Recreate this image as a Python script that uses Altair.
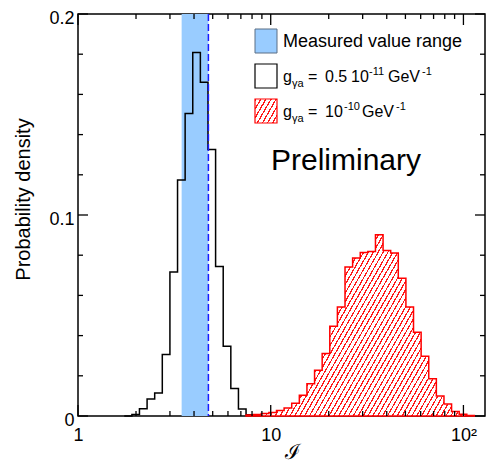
import altair as alt
import pandas as pd

W, H = 407, 402
FONT = "Liberation Sans"

# ---- data ----
# histogram bin edges (I), uniform in log10; density value of bin starting at each edge
black_edges = [1.738, 1.904, 2.084, 2.283, 2.500, 2.738, 2.999, 3.285, 3.597, 3.940,
               4.315, 4.726, 5.176, 5.669, 6.209, 6.801, 7.447, 8.157]
black_density = [0.0, 0.0008, 0.0036, 0.0085, 0.0114, 0.0306, 0.0716, 0.1174, 0.1505, 0.1808,
                 0.1661, 0.1326, 0.0744, 0.0347, 0.0137, 0.0035, 0.0006, 0.0]

red_edges = [7.447, 8.157, 8.933, 9.784, 10.715, 11.736, 12.853, 14.078, 15.417, 16.887,
             18.493, 20.256, 22.182, 24.298, 26.607, 29.144, 31.915, 34.958, 38.282, 41.933,
             45.920, 50.294, 55.081, 60.326, 66.069, 72.361, 79.250, 86.796, 95.060, 104.11, 114.02]
red_density = [0.0005, 0.0008, 0.0012, 0.0018, 0.0027, 0.0040, 0.0063, 0.0103, 0.0161, 0.0228,
               0.0311, 0.0446, 0.0542, 0.0741, 0.0786, 0.0814, 0.0819, 0.0902, 0.0824, 0.0811,
               0.0685, 0.0542, 0.0417, 0.0297, 0.0185, 0.0099, 0.0060, 0.0022, 0.0009, 0.0003, 0.0]

measured_range = [3.45, 4.75]
measured_value = [4.75]

x_domain = [1, 129.4]
y_domain = [0, 0.2]
x_major_ticks = [1, 10, 100]
x_minor_ticks = [2, 3, 4, 5, 6, 7, 8, 9, 20, 30, 40, 50, 60, 70, 80, 90]
y_major_ticks = [0, 0.1, 0.2]
y_minor_ticks = [0.02, 0.04, 0.06, 0.08, 0.12, 0.14, 0.16, 0.18]

legend_labels = ["Measured value range"]
y_title = "Probability density"
x_title = "ℐ"
watermark = "Preliminary"

# ---- styling helpers ----
x_scale = alt.Scale(type="log", domain=x_domain, nice=False)
y_scale = alt.Scale(domain=y_domain, nice=False, zero=False)


def hatch(n, frac, x2, y2, color="#ff1a1a"):
    stops = []
    for i in range(n):
        a = round(i / n, 5)
        b = round((i + frac) / n, 5)
        c = round((i + 1) / n, 5)
        stops += [{"offset": a, "color": color}, {"offset": b, "color": color},
                  {"offset": b, "color": "#ffffff"}, {"offset": c, "color": "#ffffff"}]
    return {"gradient": "linear", "x1": 0, "y1": 0, "x2": x2, "y2": y2, "stops": stops}


one = pd.DataFrame({"a": [0]})


def txt(s, x, y, size, **kw):
    return alt.Chart(one).mark_text(text=s, align=kw.pop("align", "left"),
                                    baseline=kw.pop("baseline", "alphabetic"),
                                    font=FONT, fontSize=size, color="black", **kw).encode(
        x=alt.value(x), y=alt.value(y))


# ---- layers ----
band = alt.Chart(pd.DataFrame({"lo": [measured_range[0]], "hi": [measured_range[1]]})).mark_rect(
    color="#99ccff").encode(
    x=alt.X("lo:Q", scale=x_scale, axis=alt.Axis(
        values=x_major_ticks,
        labelExpr="datum.value >= 100 ? '10²' : (datum.value >= 10 ? '10' : '1')",
        ticks=False, domain=False, grid=False, labelFont=FONT, labelFontSize=18,
        labelColor="black", labelPadding=10, labelFlush=False, labelOverlap=False,
        title=x_title, titleFont=FONT, titleFontSize=21, titleFontWeight="normal",
        titleX=214, titleAlign="center",
        titleY=42, titleBaseline="alphabetic", titleColor="black")),
    x2="hi:Q",
    y=alt.value(0), y2=alt.value(H))

black = alt.Chart(pd.DataFrame({"I": black_edges, "density": black_density})).mark_line(
    interpolate="step-after", color="black", strokeWidth=1.5).encode(
    x=alt.X("I:Q", scale=x_scale),
    y=alt.Y("density:Q", scale=y_scale, axis=alt.Axis(
        values=y_major_ticks,
        labelExpr="datum.value == 0 ? '0' : format(datum.value, '.1f')",
        ticks=False, domain=False, grid=False, labelFont=FONT, labelFontSize=18,
        labelColor="black", labelPadding=4, labelOverlap=False, labelOffset=4,
        title=y_title, titleFont=FONT, titleFontSize=20, titleFontWeight="normal",
        titleColor="black", titleAngle=270, titleX=-55, titleY=185,
        titleAlign="center", titleBaseline="middle")))

red = alt.Chart(pd.DataFrame({"I": red_edges, "density": red_density})).mark_area(
    interpolate="step-after", fill=hatch(68, 0.28, 1.206, 0.545), stroke="#ff0000",
    strokeWidth=1.5).encode(
    x=alt.X("I:Q", scale=x_scale),
    y=alt.Y("density:Q", scale=y_scale))

dashed = alt.Chart(pd.DataFrame({"v": measured_value})).mark_rule(
    color="#1a1aff", strokeDash=[7, 3], strokeWidth=1.5).encode(
    x=alt.X("v:Q", scale=x_scale))


def xticks(vals, length, top):
    return alt.Chart(pd.DataFrame({"v": vals})).mark_rule(color="black", strokeWidth=1.3).encode(
        x=alt.X("v:Q", scale=x_scale),
        y=alt.value(0 if top else H), y2=alt.value(length if top else H - length))


def yticks(vals, length, right):
    return alt.Chart(pd.DataFrame({"v": vals})).mark_rule(color="black", strokeWidth=1.3).encode(
        y=alt.Y("v:Q", scale=y_scale),
        x=alt.value(W - length if right else 0), x2=alt.value(W if right else length))


ticks = [xticks(x_major_ticks, 11, False), xticks(x_minor_ticks, 5, False),
         xticks(x_major_ticks, 11, True), xticks(x_minor_ticks, 5, True),
         yticks(y_major_ticks, 10, False), yticks(y_minor_ticks, 5, False),
         yticks(y_major_ticks, 10, True), yticks(y_minor_ticks, 5, True)]

# legend swatches
sw_blue = alt.Chart(one).mark_rect(fill="#99ccff", stroke="#5a6f85", strokeWidth=1).encode(
    x=alt.value(177), x2=alt.value(199), y=alt.value(15), y2=alt.value(39))
sw_black = alt.Chart(one).mark_rect(fill="#ffffff", stroke="black", strokeWidth=1.2).encode(
    x=alt.value(177), x2=alt.value(199), y=alt.value(50), y2=alt.value(74))
sw_red = alt.Chart(one).mark_rect(fill=hatch(7, 0.28, 1.167, 0.735), stroke="#ff0000",
                                  strokeWidth=1.2).encode(
    x=alt.value(177), x2=alt.value(199), y=alt.value(85), y2=alt.value(109))

legend_text = [
    txt(legend_labels[0], 205, 33, 18),
    # row 2: g_{γa} = 0.5 10^{-11} GeV^{-1}
    txt("g", 205, 68, 16), txt("γa", 214, 73, 11), txt("=", 230, 68, 16),
    txt("0.5", 247, 68, 16), txt("10", 273, 68, 16), txt("-11", 291, 61, 11),
    txt("GeV", 310, 68, 16), txt("-1", 344, 61, 11),
    # row 3: g_{γa} = 10^{-10} GeV^{-1}
    txt("g", 205, 103, 16), txt("γa", 214, 108, 11), txt("=", 230, 103, 16),
    txt("10", 247, 103, 16), txt("-10", 266, 96, 11),
    txt("GeV", 284, 103, 16), txt("-1", 318, 96, 11),
]

annot = [txt(watermark, 268, 156, 30, align="center")]

chart = alt.layer(band, black, red, dashed, *ticks, sw_blue, sw_black, sw_red,
                  *legend_text, *annot).properties(
    width=W, height=H,
    padding={"left": 70, "top": 6, "right": 1, "bottom": 45},
    autosize=alt.AutoSizeParams(type="none"),
).configure_view(stroke="black", strokeWidth=1.5).configure_axis(grid=False)

chart.save("out.html", embed_options={"renderer": "svg", "actions": False})
